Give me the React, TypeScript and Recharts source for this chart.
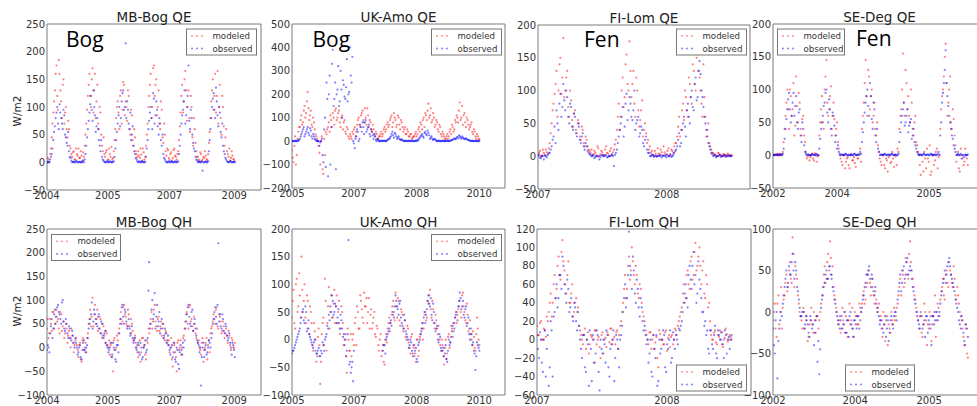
import React from "react";
import { ScatterChart, Scatter, XAxis, YAxis, ReferenceArea } from "recharts";

// x runs 0..100 across each plot box; ticks sit where the years were printed
const BOG_MB_TICKS = [0, 28.4, 57.2, 87.5];
const BOG_MB_LABELS = ["2004", "2005", "2007", "2009"];
const BOG_UK_TICKS = [0, 29.1, 58.5, 87.9];
const BOG_UK_LABELS = ["2005", "2007", "2008", "2010"];
const FEN_FI_TICKS = [0, 60.7];
const FEN_FI_LABELS = ["2007", "2008"];
const FEN_SE_QE_TICKS = [0, 29.6, 72.0];
const FEN_SE_QH_TICKS = [0, 37.9, 72.0];
const FEN_SE_LABELS = ["2002", "2004", "2005"];

// each series is read twice: on the step (A) and half a step later (B)
const MB_QE_MOD = [
  2, 5,
  15, 45, 90, 130, 175, 95, 160, 110, 140, 70, 100, 45, 60, 25,
  10, 20, 5, 15, 25, 8, 12, 18,
  30, 70, 120, 160, 100, 170, 130, 80, 140, 60, 90, 30, 45,
  10, 22, 5, 15, 28, 8,
  40, 80, 110, 60, 130, 95, 140, 110, 75, 120, 50, 85, 30, 45, 15,
  20, 8, 14, 25, 5,
  30, 70, 120, 160, 100, 175, 140, 85, 130, 60, 95, 35, 50,
  12, 22, 5, 18, 8, 25, 10, 15,
  40, 90, 140, 110, 165, 75, 130, 55, 100, 30, 60, 20,
  10, 3, 15, 5, 8, 12, 4,
  35, 80, 130, 95, 160, 120, 70, 140, 50, 100, 30, 60,
  15, 25, 8, 12, 5,
];
const MB_QE_MOD_B = [
  8, 0,
  25, 70, 110, 160, 120, 185, 130, 80, 150, 90, 60, 75, 30, 15,
  18, 5, 25, 12, 8, 20, 3, 10,
  50, 95, 140, 120, 150, 90, 160, 110, 70, 100, 50, 20, 15,
  18, 4, 25, 10, 5, 20,
  60, 100, 90, 120, 70, 145, 85, 100, 130, 60, 95, 40, 60, 20, 10,
  12, 25, 3, 18, 10,
  50, 100, 140, 80, 170, 120, 150, 100, 70, 110, 45, 70, 20,
  25, 8, 15, 3, 22, 12, 5, 20,
  65, 120, 90, 150, 130, 100, 80, 120, 45, 80, 35, 10,
  5, 18, 2, 10, 20, 6, 15,
  55, 110, 150, 120, 90, 165, 100, 80, 120, 65, 45, 20,
  10, 3, 20, 6, 2,
];
const MB_QE_OBS = [
  0, 1,
  5, 15, 40, 65, 90, 70, 105, 80, 60, 85, 45, 30, 20, 8,
  0, 1, 0, 2, 0, 1, 0, 3,
  5, 30, 60, 90, 120, 75, 100, 55, 80, 40, 20, 10, 3,
  0, 1, 0, 2, 0, 1,
  10, 40, 70, 100, 80, 125, 95, 215, 110, 70, 90, 50, 30, 15, 5,
  0, 2, 0, 1, 0,
  10, 40, 75, 100, 60, 115, 85, 95, 50, 70, 30, 15, 5,
  0, 1, 0, 2, 0, 1, 0, 2,
  15, 50, 85, 110, 70, 100, 175, 60, 80, 35, 20, 5,
  0, 1, 0, -15, 0, 2, 0,
  20, 60, 100, 125, 80, 110, 65, 90, 45, 30, 15, 5,
  1, 0, 2, 0, 1,
];
const MB_QE_OBS_B = [
  0, 0,
  10, 25, 55, 80, 100, 60, 90, 70, 95, 50, 35, 55, 10, 3,
  1, 0, 2, 0, 1, 0, 1, 0,
  15, 45, 75, 105, 95, 130, 85, 65, 60, 30, 40, 5, 1,
  0, 2, 0, 1, 0, 2,
  25, 55, 85, 65, 110, 130, 100, 80, 95, 60, 40, 65, 20, 8, 2,
  1, 0, 2, 0, 1,
  25, 60, 90, 80, 125, 70, 110, 65, 80, 40, 50, 8, 2,
  0, 2, 0, 1, 0, 2, 0, 1,
  30, 70, 95, 130, 85, 120, 75, 95, 50, 25, 10, 3,
  1, 0, 2, 0, 1, 0, 2,
  40, 80, 115, 95, 135, 85, 100, 55, 70, 20, 8, 2,
  0, 2, 0, 1, 0,
];

const UK_QE_MOD = [
  -40, -90, 20, -60, 40,
  60, 110, 80, 150, 120, 210, 90, 130, 60, 80, 30, 10,
  -20, -100, 20, -140, -60, 30,
  60, 40, 90, 120, 70, 140, 100, 130, 60, 110, 80, 40, 60, 20, 30, 10,
  30, 60, 40, 90, 70, 110, 130, 80, 100, 140, 60, 80, 40, 50, 20, 30, 10,
  20, 40, 30, 60, 50, 80, 70, 100, 60, 120, 90, 70, 100, 50, 80, 40, 60, 30, 40, 20, 30, 15,
  20, 40, 30, 60, 80, 50, 100, 120, 90, 160, 110, 80, 120, 60, 90, 50, 70, 30, 40, 20,
  10, 30, 20, 50, 70, 40, 90, 110, 80, 165, 100, 70, 120, 60, 90, 50, 70, 40, 50, 20, 30, 5,
];
const UK_QE_MOD_B = [
  -70, -20, -100, 10, 60,
  90, 70, 130, 100, 170, 140, 110, 70, 100, 50, 20, 0,
  -50, 0, -120, 10, 40, 50,
  80, 110, 60, 100, 130, 90, 120, 80, 100, 50, 90, 30, 50, 10, 20, 40,
  50, 20, 70, 100, 60, 120, 90, 140, 70, 110, 90, 50, 70, 30, 40, 10, 20,
  30, 20, 50, 40, 70, 60, 90, 110, 80, 100, 60, 110, 70, 90, 60, 50, 30, 50, 20, 30, 10, 20,
  30, 20, 50, 40, 70, 90, 60, 110, 130, 100, 140, 90, 100, 70, 80, 40, 60, 20, 30, 10,
  20, 10, 40, 30, 60, 50, 80, 100, 130, 90, 150, 110, 80, 100, 70, 60, 80, 30, 40, 10, 20, 10,
];
const UK_QE_OBS = [
  0, 0, 2, 0, 1,
  10, 30, 50, 20, 40, 60, 25, 45, 10, 20, 5, 0,
  0, -5, 10, -90, 100, 250,
  -150, 280, 60, 390, 180, -120, 220, 150, 300, 100, 240, 180, 350, 200, 400, 250,
  0, -30, 20, 40, 10, 60, 80, 30, 90, 50, 70, 20, 40, 10, 20, 0, 5,
  0, 2, 0, 1, 0, 5, 10, 20, 40, 15, 30, 10, 20, 5, 8, 2, 0, 1, 0, 2, 0, 1,
  0, 2, 5, 10, 20, 30, 15, 40, 25, 35, 10, 20, 5, 10, 2, 0, 1, 0, 2, 0,
  0, 1, 0, 2, 5, 8, 10, 15, 12, 20, 10, 15, 8, 12, 5, 3, 0, 2, 0, 1, 0, 0,
];
const UK_QE_OBS_B = [
  1, 0, 0, 2, 5,
  20, 40, 60, 30, 50, 35, 55, 20, 30, 10, 2, 0,
  -20, 0, -60, 50, -110, 180,
  200, -100, 330, 150, 250, 200, 320, 170, 220, 260, 190, 230, 170, 210, 280, 360,
  -10, 10, 50, 0, 70, 40, 60, 80, 40, 60, 30, 50, 25, 30, 5, 10, 0,
  1, 0, 2, 0, 3, 8, 15, 30, 25, 35, 20, 15, 10, 5, 3, 0, 2, 0, 1, 0, 2, 0,
  1, 0, 3, 15, 25, 20, 35, 30, 45, 25, 15, 10, 8, 5, 0, 2, 0, 1, 0, 1,
  2, 0, 1, 3, 6, 12, 8, 18, 25, 15, 20, 12, 10, 8, 6, 2, 1, 0, 1, 0, 2, 0,
];

const FI_QE_MOD = [
  2, 8, 0, 5, 10, 3,
  20, 50, 80, 110, 60, 140, 95,
  180, 100, 130, 60, 85, 45, 70, 35, 50, 25, 40, 15, 25, 10,
  5, 2, 8, 0, 12, 3, 6, 1, 15, 4, 8, 2, 10,
  25, 60, 40, 100, 75, 140, 110,
  175, 90, 130, 60, 100, 45, 70, 30, 50, 20, 10,
  5, 2, 8, 0, 4, 10, 1, 6, 3, 12, 2, 8, 15,
  20, 45, 30, 70, 55, 90, 60, 110, 80, 130, 100, 155,
  120, 80, 140, 60, 40, 20, 10,
  5, 2, 0, 4, 1, 3, 0, 2, 1, 0,
];
const FI_QE_MOD_B = [
  5, 0, 10, 2, 6, 12,
  35, 70, 95, 130, 100, 150, 120,
  90, 120, 75, 100, 55, 65, 40, 55, 30, 45, 20, 30, 15, 8,
  10, 3, 5, 15, 0, 8, 2, 10, 5, 1, 12, 6, 18,
  40, 80, 60, 120, 90, 155, 100,
  130, 110, 80, 120, 70, 55, 85, 40, 35, 25, 15,
  8, 0, 4, 12, 2, 6, 15, 3, 8, 0, 10, 5, 20,
  30, 60, 40, 80, 100, 70, 120, 90, 140, 110, 150, 130,
  100, 60, 90, 30, 50, 15, 5,
  3, 0, 5, 2, 0, 3, 1, 4, 0, 2,
];
const FI_QE_OBS = [
  0, -2, 1, -5, 0, 2,
  5, 15, 30, 20, 50, 80, 60,
  110, 70, 90, 50, 75, 40, 60, 30, 45, 20, 35, 10, 15, 5,
  2, 0, -3, 1, 0, -2, 2, 0, 1, -1, 0, 3, -15,
  5, 20, 40, 60, 30, 80, 55,
  90, 60, 70, 40, 55, 30, 45, 20, 25, 10, 5,
  0, 2, 1, -1, 0, 2, 0, 1, -2, 0, 3, 0, 5,
  10, 25, 15, 40, 60, 30, 80, 50, 100, 70, 120, 90,
  145, 100, 75, 50, 30, 15, 5,
  0, 2, 0, 1, -1, 0, 2, 0, 1, 0,
];
const FI_QE_OBS_B = [
  2, -3, 0, 1, -2, 5,
  10, 25, 45, 70, 40, 95, 75,
  85, 100, 60, 80, 45, 65, 35, 50, 25, 30, 15, 20, 8, 3,
  0, 2, -1, 0, -5, 1, 0, 2, -2, 0, 1, 0, 2,
  10, 30, 50, 75, 45, 95, 70,
  80, 55, 100, 50, 60, 35, 40, 15, 30, 5, 0,
  2, -1, 0, 1, 0, -2, 1, 0, 2, 0, -1, 2, 8,
  15, 35, 20, 50, 45, 70, 60, 90, 75, 110, 85, 130,
  125, 90, 60, 40, 20, 10, 3,
  1, -2, 0, 2, 0, 1, -1, 0, 2, 0,
];

const SE_QE_MOD = [
  0, 1, 0, 2, 0, 1,
  20, 60, 100, 40, 90, 70, 30, 120, 50, 80, 30, 60, 20,
  -5, 0, -3, 2, -8, 0, -2,
  30, 70, 50, 100, 145, 60, 90, 40, 80, 30, 50, 10,
  -5, -15, 0, -10, -3, -20, 2, -8, -12, 0, -5, 10,
  40, 80, 145, 60, 120, 90, 50, 80, 30, 15,
  -5, -15, 0, -20, -8, -3, -12, 5, -18, -2, 10,
  40, 70, 155, 60, 110, 90, 50, 80, 30, 60, 15,
  0, -30, -10, 5, -20, -5, 15, -25, 0, -8, 10, -3,
  40, 90, 120, 170, 60, 100, 50, 70, 30,
  -10, 5, -25, 0, -15, 10, -5,
];
const SE_QE_MOD_B = [
  1, 0, 2, 0, 1, 5,
  40, 80, 70, 100, 60, 110, 45, 75, 95, 40, 55, 30, 5,
  -2, -8, 0, -5, 3, -10, 0,
  50, 90, 40, 120, 80, 70, 105, 60, 55, 40, 20, 0,
  -10, 0, -20, -5, -15, 0, -8, -3, -18, -5, 2, -10,
  60, 110, 90, 130, 70, 100, 60, 40, 50, 5,
  -10, 0, -15, -5, -25, 0, -10, -5, 0, -15, 5,
  60, 100, 80, 130, 70, 60, 100, 40, 50, 20, 5,
  -15, 0, -25, -5, 10, -10, -30, 0, -15, 5, -20, 0,
  70, 100, 150, 110, 80, 120, 40, 55, 15,
  0, -20, 10, -5, -10, 0, -15,
];
const SE_QE_OBS = [
  0, 0, 1, 0, 2, 0,
  10, 40, 70, 95, 50, 80, 60, 90, 40, 70, 20, 40, 5,
  0, 1, 0, 2, 0, 1, 0,
  10, 40, 60, 80, 100, 50, 70, 30, 60, 20, 10, 5,
  0, 1, 0, 2, 0, 0, 1, 0, 2, 0, 1, 5,
  20, 50, 80, 100, 60, 90, 40, 70, 20, 10,
  0, 1, 0, 2, 0, 1, 0, 2, 0, 1, 0,
  20, 50, 70, 45, 60, 35, 50, 25, 40, 15, 5,
  0, 1, 0, 2, 0, 1, 0, 2, 0, 1, 0, 5,
  30, 80, 110, 160, 90, 60, 40, 25, 10,
  0, 2, 0, -5, 0, 1, 0,
];
const SE_QE_OBS_B = [
  0, 1, 0, 0, 1, 2,
  25, 55, 85, 70, 60, 95, 75, 50, 65, 30, 50, 15, 2,
  1, 0, 0, 1, 0, 2, 0,
  25, 50, 75, 95, 65, 85, 40, 65, 45, 30, 15, 2,
  1, 0, 2, 0, 1, 0, 0, 2, 0, 1, 0, 2,
  35, 65, 90, 75, 110, 55, 80, 30, 40, 5,
  1, 0, 2, 0, 1, 0, 2, 0, 1, 0, 2,
  35, 60, 80, 50, 70, 45, 55, 30, 20, 10, 2,
  1, 0, 2, 0, 1, 0, 2, 0, 1, 0, 2, 1,
  50, 95, 130, 110, 75, 50, 30, 15, 5,
  1, 0, 2, 0, -3, 0, 1,
];

const MB_QH_MOD = [
  40, 20, 60, 35, 75, 50, 80,
  60, 30, 70, 45, 20, 50, 10, 35, 0, 25, -10, 15, 5,
  -20, 10, -30, 20, 0, -10,
  30, 60, 45, 105, 70, 50, 80, 40, 60, 20, 45, 10, 30, 0,
  -15, 10, -50, 20, 0, 15,
  40, 75, 55, 90, 65, 45, 70, 30, 50, 15, 25,
  0, -20, 15, -10, 20, 5, -25, 10, 30,
  60, 40, 80, 55, 35, 65, 45, 25, 50, 15, 30, 5,
  -10, 20, -40, 5, -20, 10, -5, 15, 0, 25,
  55, 75, 40, 90, 60, 35, 50, 20, 10,
  0, -15, 20, -5, 10, -25, 15, 30, 45,
  70, 50, 85, 40, 65, 30, 55, 20, 40, 10, 25, -5, 15, 0,
];
const MB_QH_MOD_B = [
  60, 30, 50, 75, 40, 65, 55,
  40, 75, 35, 55, 30, 40, 25, 20, 40, 10, 5, 20, -5,
  5, -25, 15, -5, 10, 20,
  50, 80, 65, 45, 90, 60, 35, 65, 30, 50, 25, 35, 5, 15,
  5, -20, 15, -5, 25, 30,
  60, 50, 85, 70, 50, 80, 45, 60, 35, 20, 10,
  -10, 5, -30, 20, 0, -15, 15, 40, 50,
  75, 55, 90, 45, 60, 35, 55, 40, 20, 35, 10, 15,
  0, -25, 10, -10, -50, 15, 0, -15, 20, 40,
  70, 50, 85, 55, 45, 65, 30, 40, 15,
  -5, 10, -30, 0, 20, 5, -10, 40, 55,
  60, 80, 45, 70, 55, 35, 45, 30, 25, 35, 5, 20, 0, 10,
];
const MB_QH_OBS = [
  -5, 0, 30, 60, 40, 80, 65,
  90, 70, 50, 100, 40, 60, 30, 45, 20, 35, 10, 20, 0,
  -10, 5, -25, 10, -5, 0,
  20, 50, 70, 40, 80, 60, 45, 70, 30, 50, 20, 35, 5, -10,
  0, -20, 10, -5, -30, 5,
  30, 60, 90, 50, 75, 40, 60, 25, 45, 10, 20,
  -5, 10, -15, 0, -20, 5, -10, 20, 180,
  50, 100, 70, 40, 90, 55, 30, 60, 20, 40, 10, 25,
  -5, 0, -20, 10, -30, -5, -45, 5, -15, 0,
  40, 70, 90, 50, 75, 35, 60, 25, 10,
  -10, -80, 0, -20, 5, -10, 15, 0, 30,
  60, 85, 50, 220, 70, 40, 60, 30, 45, 15, 30, 0, 10, -5,
];
const MB_QH_OBS_B = [
  5, -10, 45, 20, 70, 50, 85,
  75, 60, 95, 55, 35, 50, 20, 40, 15, 25, 0, 10, -15,
  0, -20, -5, 15, -10, 5,
  40, 60, 95, 55, 70, 50, 65, 40, 55, 25, 30, 10, 0, -5,
  10, -15, 0, -25, 5, -10,
  50, 85, 65, 80, 55, 45, 40, 30, 20, 15, 0,
  5, -10, 10, -25, 0, 15, -5, 120, 40,
  80, 60, 115, 65, 45, 75, 40, 50, 25, 30, 15, 5,
  -15, 5, -10, -25, 0, -35, -10, -5, 10, 15,
  55, 85, 65, 45, 80, 50, 40, 15, 5,
  0, -20, 10, -5, -15, 0, 10, 20, 50,
  75, 65, 90, 55, 45, 70, 35, 50, 25, 20, 10, -15, 5, -20,
];

const UK_QH_MOD = [
  40, 90, 20, 110, 60, 80,
  150, 50, 100, 30, 70, 10, 50, -10, 30, 0, -30, 20,
  -80, 10, 40, 110, -20, 60, 20, 80,
  40, 90, 60, 30, 70, 20, 50, -10, 10, -60, 0, -20,
  -30, 10, 30, -10, 50, 20, 70, 40, 85,
  60, 30, 75, 45, 20, 40, 10, 25, -10, 0,
  -30, -10, -45, 10, 20, 40, 30, 60, 50,
  85, 40, 70, 25, 50, 15, 35, 0, 20, -15, 5, -30,
  -10, -40, 0, -20, 10, 30, 20, 50, 40,
  65, 90, 40, 55, 20, 35, 10, 0, -20,
  -10, -45, 0, -25, 10, -5, 20, 15, 40, 30, 55,
  70, 40, 85, 50, 30, 45, 20, 10, -10, 5, -20, 40, 0,
];
const UK_QH_MOD_B = [
  70, 30, 100, 50, 120, 40,
  90, 70, 40, 80, 20, 60, 30, -20, 15, -40, 5, -10,
  -40, 30, -10, 70, 30, 95, 50, 40,
  65, 30, 80, 50, 10, 60, 30, 0, -30, 20, -20, 10,
  0, -10, 40, 60, 20, 80, 55, 30, 60,
  75, 50, 20, 55, 30, 50, 5, 20, -20, 10,
  -20, -40, 0, -5, 30, 15, 45, 70, 35,
  60, 75, 35, 55, 45, 20, 5, 25, -5, -25, 10, -15,
  -25, 0, -30, 5, 20, 0, 45, 35, 70,
  80, 55, 70, 30, 45, 20, 25, -10, 0,
  -30, -15, -35, 5, -15, 25, 5, 30, 50, 45, 60,
  50, 80, 60, 35, 65, 15, 35, 0, 15, -15, 10, 20, -10,
];
const UK_QH_OBS = [
  -25, -20, -10, 0, 10, 20,
  40, 55, 30, 50, 20, 10, 0, -10, -5, -20, -25, -15,
  -30, -25, -10, 0, 10, 20, 35, 50,
  70, 50, 60, 40, 30, 45, 20, 10, 0, -20, 180, -40,
  -50, -75, null, null, null, null, null, null, null,
  null, null, null, null, null, null, null, null, null, null,
  null, -20, -10, 0, 10, 20, 35, 50, 40,
  80, 60, 45, 70, 30, 20, 35, 10, 0, -10, -5, -25,
  -30, -15, -40, -5, 10, 20, 40, 30, 55,
  80, 60, 45, 65, 30, 20, 0, 10, -15,
  -20, -30, -10, -40, 0, -5, 15, 30, 40, 50, 60,
  85, 55, 70, 40, 60, 30, 10, 20, -10, -20, -55, -5, -15,
];
const UK_QH_OBS_B = [
  -20, -15, -5, 5, 15, 30,
  50, 35, 60, 15, 35, 5, -5, -15, 0, -25, -20, -30,
  -20, -5, -20, 5, 25, 45, 60, 80,
  45, 65, 30, 55, 20, 35, 5, -10, -30, 10, -45, -60,
  -40, -20, null, null, null, null, null, null, null,
  null, null, null, null, null, null, null, null, null, null,
  null, -10, -25, 5, 15, 30, 25, 45, 60,
  70, 55, 65, 40, 25, 45, 15, 5, -15, 0, -20, -10,
  -20, -35, -10, 0, 15, 30, 50, 45, 70,
  65, 75, 35, 50, 15, 25, -5, 5, -20,
  -15, -25, -35, -20, -10, 5, 25, 20, 45, 35, 70,
  75, 60, 45, 55, 25, 40, 0, 10, -5, -25, -30, -10, -20,
];

const FI_QH_MOD = [
  15, 5, 20, 0, 10, 25,
  30, 50, 40, 70, 55, 90, 65, 108,
  75, 50, 85, 40, 60, 30, 45, 35,
  10, 0, 5, -10, 8, -5, 3, -25, 10, 0, -8, 5, -15, 2, 8, -3, 12, 0, -5, 10, 5, 20,
  40, 70, 55, 90, 75,
  85, 60, 70, 45, 55, 30, 20,
  5, -5, 8, 0, -10, 3, -30, 6, 0, -5, 10, 2, -8, 5, 0, 10, 15, 25,
  35, 60, 45, 75, 55, 90, 70, 105, 80,
  100, 60, 85, 45, 60, 40,
  5, 0, 10, -5, 3, 8, -8, 2, 6, 0, 3,
];
const FI_QH_MOD_B = [
  5, 18, 0, 12, 3, 20,
  40, 25, 60, 45, 80, 70, 95, 85,
  60, 70, 40, 50, 25, 40, 30, 15,
  5, -5, 12, 0, -15, 5, 0, 10, -5, 3, -20, 8, 0, -8, 5, 12, -5, 3, 8, -10, 15, 30,
  55, 45, 80, 65, 100,
  70, 80, 50, 60, 40, 25, 10,
  0, 8, -10, 5, -3, -20, 10, 0, -5, 8, -12, 5, 3, -5, 12, 5, 20, 30,
  50, 40, 70, 60, 85, 65, 95, 75, 90,
  80, 75, 50, 70, 35, 20,
  0, 8, -3, 5, 10, -5, 0, 12, -2, 5, 0,
];
const FI_QH_OBS = [
  5, -20, 0, -35, 10, -10,
  -50, 20, -40, 30, 60, 45, 70, 90,
  60, 40, 55, 35, 25, 40, 20, 30,
  0, -20, 5, -35, -5, 10, -45, 0, -15, 5, -55, -10, 0, -25, 5, -40, -5, 10, -20, 0, -30, 5,
  30, 60, 45, 117, 70,
  90, 50, 65, 35, 45, 20, 15,
  -5, -25, 0, -40, -10, 5, -45, -15, 0, 5, -35, -10, 10, -20, 0, 5, -5, 10,
  20, 40, 60, 35, 80, 55, 95, 70, 50,
  65, 45, 30, 20, 10, -15,
  10, -10, 15, -20, 5, 0, -5, 10, -15, 3, 0,
];
const FI_QH_OBS_B = [
  -10, 8, -25, 0, -40, 5,
  -30, 10, 25, 45, 35, 70, 55, 80,
  50, 65, 30, 45, 20, 35, 10, 15,
  -10, 5, -30, 0, -50, -10, 5, -25, 10, -35, 0, -15, -5, 10, -30, -10, 0, -45, 5, -10, 0, 15,
  45, 35, 70, 80, 55,
  75, 40, 55, 25, 35, 10, 5,
  0, -15, -35, 5, -20, -50, 0, -10, 10, -30, -5, 0, -25, 8, -10, 0, 12, 15,
  30, 50, 45, 70, 65, 80, 60, 40, 85,
  55, 30, 15, 5, -10, 10,
  -5, 5, -15, 10, 0, 8, -20, 5, 0, -10, 5,
];

const SE_QH_MOD = [
  -10, 10, -30, 20, 0, -20,
  15, 35, 25, 50, 40,
  90, 30, 45, 20,
  0, -10, 5, -20, -5, -30, -10, -15, 0, -25, -5, -10,
  10, 30, 55, 40, 70,
  85, 45, 30, 15,
  0, -10, -25, 5, -15, -5, -30, 10, -10, -20, 0, -5, -15, 5,
  10, 25, 15, 35,
  50, 20, 30, 10, 15, 5,
  -10, -20, 0, -35, -5, -15, -25, -10, 5, -5,
  10, 30, 20, 45, 35, 60, 40,
  85, 50, 30, 15,
  0, -20, -5, -30, 10, -10, -15, 0, -35, -5, 20, -10, 5,
  15, 30, 20, 45, 35,
  60, 45, 30, 40, 15, 20, 0, -10,
  -30, -15, -50,
];
const SE_QH_MOD_B = [
  0, -20, 10, -15, 30, 5,
  20, 45, 30, 60, 35,
  70, 55, 40, 10,
  -5, -20, 0, -10, -35, -15, 5, -25, -10, -5, -20, 0,
  20, 45, 35, 60, 50,
  65, 55, 20, 5,
  -15, -5, -20, -10, 0, -25, -10, -15, 5, -30, -5, -15, 10, 0,
  20, 10, 30, 45,
  35, 40, 20, 25, 0, 10,
  -5, -30, -15, -10, -40, -20, 0, -15, -10, 5,
  20, 40, 50, 30, 65, 45, 70,
  60, 40, 20, 5,
  -10, -5, -25, -15, 0, -40, -20, -5, -15, 0, -30, 10, -5,
  25, 40, 15, 50, 30,
  50, 35, 55, 20, 30, 10, -5, -20,
  -40, -20, -55,
];
const SE_QH_OBS = [
  -20, -50, 0, -35, -10, -5,
  20, 40, 30, 55, 45,
  70, 40, 50, 25,
  5, -5, 0, -15, -10, -25, -5, -20, -40, -10, -60, -75,
  5, 20, 35, 50, 40,
  55, 40, 25, 10,
  -5, -15, -10, -20, 0, -25, -10, -5, -15, -30, -10, -20, -5, -10,
  5, 20, 35, 45,
  55, 30, 40, 20, 10, 0,
  -15, -10, -25, -5, -20, -35, -10, -15, -5, 0,
  15, 35, 25, 50, 40, 60, 45,
  55, 40, 25, 10,
  -5, -15, 0, -20, -10, -5, -25, -15, -40, -5, -10, 0, -5,
  10, 25, 40, 35, 55,
  65, 45, 35, 25, 10, 0, -15, -5,
  -25, -40, -20,
];
const SE_QH_OBS_B = [
  -40, -10, -80, -20, 0, 10,
  30, 50, 35, 45, 60,
  50, 60, 30, 15,
  -5, 0, -20, -5, -15, -30, -10, -15, -25, -5, -35, -45,
  15, 30, 45, 40, 55,
  45, 30, 15, 0,
  -10, -20, -5, -15, -25, -10, -30, 0, -20, -10, -15, -5, -20, 0,
  15, 30, 45, 50,
  40, 45, 25, 30, 5, -5,
  -10, -20, -15, -30, -10, -25, -5, -20, 0, -10,
  25, 45, 35, 55, 45, 65, 50,
  50, 30, 15, 0,
  -10, -20, -5, -15, -30, -5, -10, -20, -5, -15, 0, -10, 0,
  20, 35, 50, 45, 60,
  55, 40, 30, 15, 5, -10, -20, -10,
  -35, -15, -30,
];

type Series = [(number | null)[], (number | null)[]];

type Panel = {
  title: string;
  left: number;
  top: number;
  width: number;
  height: number;
  yDomain: [number, number];
  yTicks: number[];
  xTicks: number[];
  xLabels: string[];
  xEnd: number;
  modeled: Series;
  observed: Series;
  legend: { x: number; y: number; w: number };
  region?: { text: string; x: number; y: number };
};

const PANELS: Panel[] = [
  {
    title: "MB-Bog QE", left: 47, top: 24, width: 214, height: 166,
    yDomain: [-50, 250], yTicks: [-50, 0, 50, 100, 150, 200, 250],
    xTicks: BOG_MB_TICKS, xLabels: BOG_MB_LABELS, xEnd: 87.4,
    modeled: [MB_QE_MOD, MB_QE_MOD_B], observed: [MB_QE_OBS, MB_QE_OBS_B],
    legend: { x: 186, y: 28.5, w: 70 }, region: { text: "Bog", x: 66, y: 46.5 },
  },
  {
    title: "UK-Amo QE", left: 292, top: 24, width: 213, height: 164,
    yDomain: [-200, 500], yTicks: [-200, -100, 0, 100, 200, 300, 400, 500],
    xTicks: BOG_UK_TICKS, xLabels: BOG_UK_LABELS, xEnd: 87.6,
    modeled: [UK_QE_MOD, UK_QE_MOD_B], observed: [UK_QE_OBS, UK_QE_OBS_B],
    legend: { x: 431, y: 28.5, w: 70 }, region: { text: "Bog", x: 312.5, y: 46.5 },
  },
  {
    title: "FI-Lom QE", left: 538, top: 25, width: 212, height: 164,
    yDomain: [-50, 200], yTicks: [-50, 0, 50, 100, 150, 200],
    xTicks: FEN_FI_TICKS, xLabels: FEN_FI_LABELS, xEnd: 90.9,
    modeled: [FI_QE_MOD, FI_QE_MOD_B], observed: [FI_QE_OBS, FI_QE_OBS_B],
    legend: { x: 676, y: 28.5, w: 70 }, region: { text: "Fen", x: 584, y: 46.5 },
  },
  {
    title: "SE-Deg QE", left: 773, top: 24, width: 217, height: 164,
    yDomain: [-50, 200], yTicks: [-50, 0, 50, 100, 150, 200],
    xTicks: FEN_SE_QE_TICKS, xLabels: FEN_SE_LABELS, xEnd: 89.4,
    modeled: [SE_QE_MOD, SE_QE_MOD_B], observed: [SE_QE_OBS, SE_QE_OBS_B],
    legend: { x: 777, y: 28.5, w: 67 }, region: { text: "Fen", x: 856, y: 45.5 },
  },
  {
    title: "MB-Bog QH", left: 47, top: 229, width: 214, height: 166,
    yDomain: [-100, 250], yTicks: [-100, -50, 0, 50, 100, 150, 200, 250],
    xTicks: BOG_MB_TICKS, xLabels: BOG_MB_LABELS, xEnd: 87.4,
    modeled: [MB_QH_MOD, MB_QH_MOD_B], observed: [MB_QH_OBS, MB_QH_OBS_B],
    legend: { x: 51, y: 234, w: 69 },
  },
  {
    title: "UK-Amo QH", left: 292, top: 229, width: 213, height: 166,
    yDomain: [-100, 200], yTicks: [-100, -50, 0, 50, 100, 150, 200],
    xTicks: BOG_UK_TICKS, xLabels: BOG_UK_LABELS, xEnd: 87.6,
    modeled: [UK_QH_MOD, UK_QH_MOD_B], observed: [UK_QH_OBS, UK_QH_OBS_B],
    legend: { x: 431, y: 234, w: 70 },
  },
  {
    title: "FI-Lom QH", left: 537, top: 229, width: 214, height: 166,
    yDomain: [-60, 120], yTicks: [-60, -40, -20, 0, 20, 40, 60, 80, 100, 120],
    xTicks: FEN_FI_TICKS, xLabels: FEN_FI_LABELS, xEnd: 90.5,
    modeled: [FI_QH_MOD, FI_QH_MOD_B], observed: [FI_QH_OBS, FI_QH_OBS_B],
    legend: { x: 676, y: 364.5, w: 70 },
  },
  {
    title: "SE-Deg QH", left: 773, top: 229, width: 217, height: 166,
    yDomain: [-100, 100], yTicks: [-100, -50, 0, 50, 100],
    xTicks: FEN_SE_QH_TICKS, xLabels: FEN_SE_LABELS, xEnd: 89.4,
    modeled: [SE_QH_MOD, SE_QH_MOD_B], observed: [SE_QH_OBS, SE_QH_OBS_B],
    legend: { x: 845, y: 364.5, w: 69 },
  },
];

const YW = 40;
const MT = 4;
const XH = 16;
const MR = 2;
const FONT = "'DejaVu Sans', sans-serif";
const RED = "#ff0000";
const BLUE = "#0000ff";

// A readings sit on the step, B readings half a step later
function toPoints([a, b]: Series, xEnd: number) {
  const step = xEnd / (a.length - 1);
  const pts = [
    ...a.map((y, i) => ({ x: i * step, y })),
    ...b.map((y, i) => ({ x: (i + 0.5) * step, y })),
  ];
  return pts.filter((p) => p.y !== null);
}

const dot = (color: string) => (props: any) =>
  <circle cx={props.cx} cy={props.cy} r={1.1} fill={color} fillOpacity={0.5} />;

const fmtY = (v: number) => (v < 0 ? "\u2212" + Math.abs(v) : String(v));

function PanelChart({ p }: { p: Panel }) {
  const w = p.width + YW + MR;
  const h = p.height + MT + XH;
  const tick = { fontSize: 10, fill: "#333", fontFamily: FONT };
  return (
    <div style={{ position: "absolute", left: p.left - YW, top: p.top - MT, width: w, height: h }}>
      <ScatterChart width={w} height={h} margin={{ top: MT, right: MR, bottom: 0, left: 0 }}>
        <XAxis
          type="number" dataKey="x" domain={[0, 100]} ticks={p.xTicks} interval={0}
          tickFormatter={(v: number) => p.xLabels[p.xTicks.indexOf(v)] ?? ""}
          height={XH} tick={tick} tickLine={false} axisLine={false} tickSize={0} tickMargin={2}
          allowDataOverflow
        />
        <YAxis
          type="number" dataKey="y" domain={p.yDomain} ticks={p.yTicks} interval={0}
          tickFormatter={fmtY} width={YW} tick={tick} tickLine={false} axisLine={false}
          tickSize={0} tickMargin={2} allowDataOverflow
        />
        <Scatter data={toPoints(p.modeled, p.xEnd)} fill={RED} shape={dot(RED)} isAnimationActive={false} />
        <Scatter data={toPoints(p.observed, p.xEnd)} fill={BLUE} shape={dot(BLUE)} isAnimationActive={false} />
        <ReferenceArea
          x1={0} x2={100} y1={p.yDomain[0]} y2={p.yDomain[1]}
          fill="none" stroke="#7a7a7a" strokeWidth={1} ifOverflow="visible"
        />
      </ScatterChart>
    </div>
  );
}

function LegendBox({ x, y, w }: { x: number; y: number; w: number }) {
  const rows = [
    { label: "modeled", color: RED, cy: 7.3 },
    { label: "observed", color: BLUE, cy: 20 },
  ];
  return (
    <g transform={`translate(${x},${y})`}>
      <rect x={0.5} y={0.5} width={w} height={26} fill="#fff" stroke="#777" />
      {rows.map((r) => (
        <g key={r.label}>
          {[6, 11, 16].map((dx) => (
            <circle key={dx} cx={dx} cy={r.cy} r={0.9} fill={r.color} fillOpacity={0.55} />
          ))}
          <text x={26.5} y={r.cy} dy="0.35em" fontSize={8.6} fill="#333" fontFamily={FONT}>
            {r.label}
          </text>
        </g>
      ))}
    </g>
  );
}

export default function App() {
  return (
    <div style={{ position: "absolute", left: 0, top: 0, width: 977, height: 406, overflow: "hidden", background: "#fff" }}>
      {PANELS.map((p) => (
        <PanelChart key={p.title} p={p} />
      ))}
      <svg width={977} height={406} style={{ position: "absolute", left: 0, top: 0, pointerEvents: "none" }}>
        {PANELS.map((p) => (
          <g key={p.title}>
            <text
              x={p.left + p.width / 2 - (p.width > 214 ? 2 : 0)}
              y={p.top - 2.5} textAnchor="middle" fontSize={13.5} fill="#222" fontFamily={FONT}
            >
              {p.title}
            </text>
            <LegendBox {...p.legend} />
            {p.region && (
              <text x={p.region.x} y={p.region.y} fontSize={21} fill="#000" fontFamily="'Open Sans', sans-serif">
                {p.region.text}
              </text>
            )}
          </g>
        ))}
        <text transform="translate(17.5,111) rotate(-90)" textAnchor="middle" dy="0.35em" fontSize={10.5} fill="#222" fontFamily={FONT}>
          W/m2
        </text>
        <text transform="translate(17.5,311) rotate(-90)" textAnchor="middle" dy="0.35em" fontSize={10.5} fill="#222" fontFamily={FONT}>
          W/m2
        </text>
      </svg>
    </div>
  );
}
